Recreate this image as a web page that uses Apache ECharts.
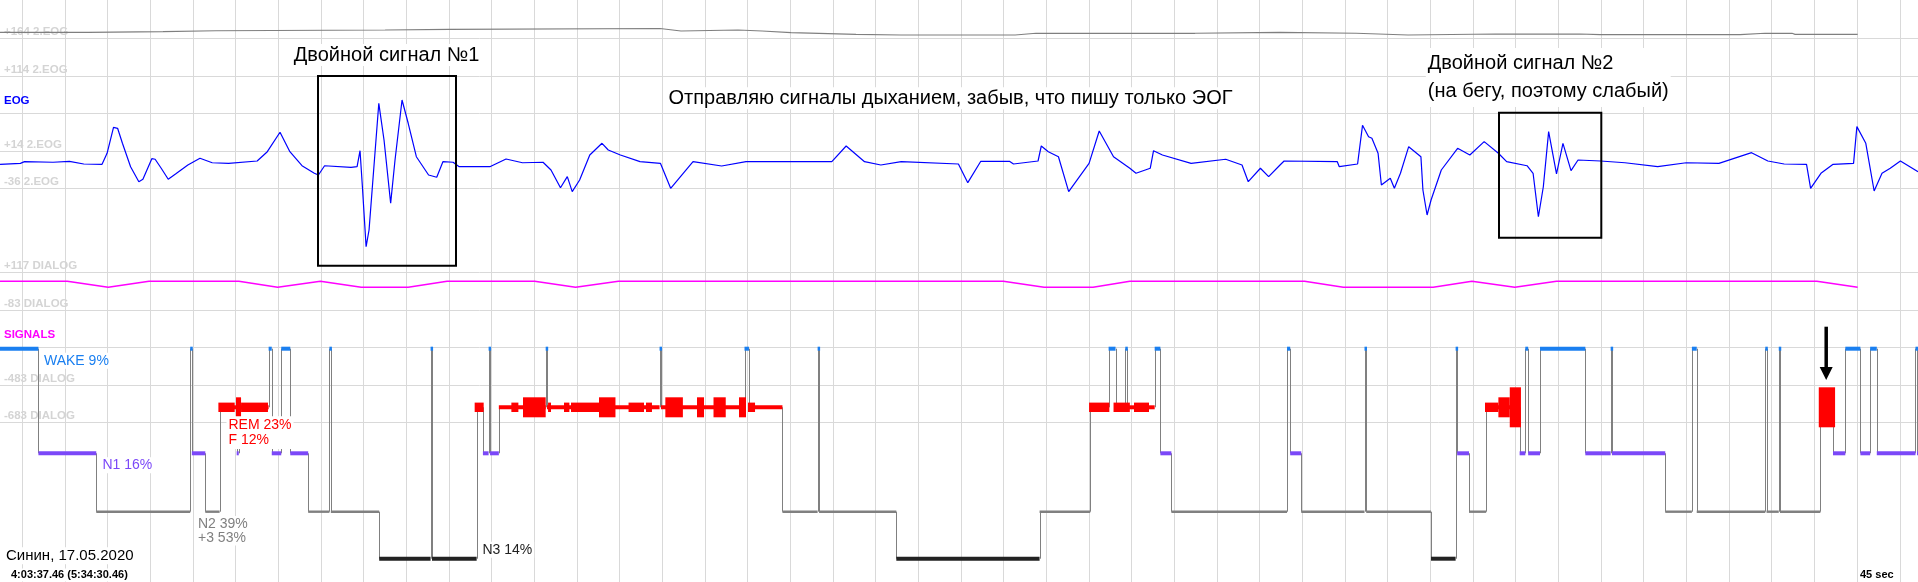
<!DOCTYPE html>
<html>
<head>
<meta charset="utf-8">
<script src="https://cdn.jsdelivr.net/npm/echarts@6/dist/echarts.min.js"></script>
<style>
  html, body { margin: 0; padding: 0; background: #fff; }
  #chart { width: 1918px; height: 582px; }
</style>
</head>
<body>
<div id="chart"></div>
<script>
// ---- recorded channels: [seconds, value] ----
const EOG_SAMPLES = [
  [21.4,-4],[42.9,-2.7],[47.2,-0.5],[77.3,-1.3],[94.6,0],[109.7,-3.6],[129,-4],[134.3,10.7],
  [141.1,45.3],[145.4,44],[150.5,24],[159.1,-7.2],[167.8,-27.2],[172.1,-24],[181.5,3.5],[185,2.7],
  [191.4,-9.3],[198.8,-24],[206.5,-17],[219.5,-4.9],[232.3,4],[245.2,-1.9],[262.5,-2.7],[292.6,0.4],
  [303.3,12.8],[316.7,38.7],[327.1,12.8],[339.9,-5.9],[352.9,-16],[357.2,-18.3],[363.7,-5.9],[391.6,-8],
  [398,-7.2],[401.1,14.1],[403.6,-33.9],[407.5,-113.9],[410.6,-91.6],[420.9,77.3],[426.4,28.4],[433.4,-56],
  [438,1.7],[445.4,81.7],[451.9,50.7],[460.5,6.1],[473.4,-18.3],[482,-21.3],[488.5,-0.5],[499.2,-1.3],
  [505.7,-7.2],[538,-7.2],[555.1,3.1],[572.4,-1.9],[594.1,-1.3],[602.5,-11.6],[612.5,-35.2],[619.7,-20.5],
  [624.9,-40.5],[632.7,-24.9],[643.4,8.4],[656.3,24],[662.9,15.1],[675.7,8.4],[696.4,-0.5],[717.9,-2.7],
  [728.7,-36],[752.3,-0.5],[782.5,-6.3],[808.2,-0.5],[898.7,-0.5],[913.8,20.4],[933.2,-0.5],[950.4,-4.9],
  [971.9,-0.5],[1032.2,-3.6],[1042.1,-28.5],[1055.8,0],[1086,0],[1090.3,-3.6],[1116.2,0.4],[1119.6,20.4],
  [1127,12.8],[1137.7,6.1],[1148.5,-40.5],[1170,-2.7],[1180.7,40.4],[1195.8,6.1],[1213,-9.3],[1219.5,-16],
  [1234.5,-9.3],[1238,14.1],[1247.4,8.4],[1277.6,-2.7],[1314.1,2.7],[1331.3,-4.9],[1337.9,-27.2],[1350.7,-9.3],
  [1359.4,-20.5],[1371.4,-4.9],[1375.7,0.4],[1431.8,-0.5],[1433.9,-7.2],[1453.2,-3.6],[1458.4,48],[1464.8,32.8],
  [1468.3,30.7],[1474.8,10.7],[1478.3,-31.6],[1487.7,-22.7],[1492,-36],[1498.4,-16],[1507.1,19.5],[1520,6.1],
  [1522.1,-38.3],[1526.5,-71.6],[1530.7,-51.6],[1541.5,-11.6],[1558.7,17.3],[1571.6,8.4],[1586.7,26.2],[1601.7,10.7],
  [1610.4,-0.5],[1631.9,-5.9],[1638.3,-16],[1643.9,-73.9],[1649.1,-33.9],[1654.7,39.5],[1663,-16.9],[1669.8,24],
  [1678.3,-12.5],[1685.7,1.7],[1709.4,0.4],[1735.2,-1.9],[1769.7,-7.2],[1799.8,-1.9],[1834.3,-2.7],[1868.7,11.5],
  [1885.9,0.4],[1903.1,-3.6],[1926.7,-4],[1931,-36],[1941.9,-16],[1954.7,-4],[1976.3,-2.7],[1979.8,46.2],
  [1989.2,24],[1998,-39.6],[2006.3,-16],[2015,-9.3],[2025.7,0.4],[2044.3,-13.8]
];

const EOG2_SAMPLES = [
  [21.4,172],[114.2,172],[114.2,172.8],[193.3,172.8],[193.3,174.1],[249.2,174.1],[249.2,175.1],[427.5,175.1],
  [427.5,176],[495,176],[495,177.1],[717.5,177.1],[717.5,176],[739.6,173.7],[799.8,175.1],[825.1,173.7],
  [855.7,171.5],[924.2,169.3],[971.7,168.4],[1092,168.4],[1114,170.7],[1281.8,170.7],[1281.8,172],[1371.4,172],
  [1451.6,170.7],[1452.6,168.4],[1506.4,168.4],[1598.2,169.7],[1687.8,169.7],[1709,168.8],[1856.6,168.8],
  [1883,170.7],[1911.4,170.7],[1914.6,169.3],[1980.6,169.3]
];

const DIALOG_SAMPLES = [
  [21.4,69],[92.4,69],[135.5,37],[178.5,69],[273.3,69],[314.2,37],[359.3,69],[402.4,37],[451.9,37],
  [492.9,69],[585.3,69],[628.4,37],[673.6,69],[1079.6,69],[1122.6,37],[1174.2,37],[1213,69],
  [1397.3,69],[1438.2,37],[1532.9,37],[1573.8,69],[1619,37],[1663,69],[1937.6,69],[1980.6,37]
];

// ---- hypnogram: stage onsets (s) and stages ----
const HYP_T = [0,61.9,122.9,222,223.7,237.9,253,271,273.2,304.7,308,318,327.5,346.4,368.8,370.3,
  421.3,475.5,477,524.1,530.7,536.7,538.2,547.5,596.9,598.3,717,718.5,806.6,811.3,846.6,883.7,
  885.2,966.7,1117.8,1171.2,1190.6,1197.9,1208.2,1209.5,1239.2,1245.2,1256.8,1378.8,1382.1,1393.8,
  1460.5,1462.3,1530.6,1556.6,1558.2,1570.7,1588.8,1624.1,1630.1,1633.1,1645.6,1693.4,1720.1,1721.5,
  1777.7,1805.8,1810.9,1883.2,1884.5,1897.4,1898.7,1941.3,1954.6,1967.6,1983.5,1993.8,2000.8,2041.6,2043.2];
const HYP_STAGE = ['W','N1','N2','W','N1','N2','R','N1','R','W','N1','W','N1','N2','W','N2',
  'N3','W','N3','R','N1','W','N1','R','W','R','W','R','W','R','N2','W',
  'N2','N3','N2','R','W','R','W','R','W','N1','N2','W','N1','N2',
  'W','N2','N3','W','N1','N2','R','N1','W','N1','W','N1','W','N1',
  'N2','W','N2','W','N2','W','N2','R','N1','W','N1','W','N1','W','N1'];

// ---- REM eye-movement bursts: start (s), end (s), intensity 0..3 ----
const REM_T0 = [251.7,270.3,275.6,522,560.7,573,599.4,616.2,623.6,653.1,684.3,702.7,723.1,756.5,773.9,800.8,810.3,
  1170,1195.8,1217.4,1587.6,1601.7,1613.7,1939.6];
const REM_T1 = [268.9,275.6,304,531.5,568.1,596.9,602.5,621.9,654.2,670.5,700.6,709,741.6,763.9,786.8,808.2,817.7,
  1191.4,1213,1233.2,1601.7,1613.7,1625.5,1956.8];
const REM_LEVEL = [1,2,1,1,1,2,1,1,1,2,1,1,2,2,2,2,1,1,1,1,1,2,3,3];

// ---- axis tick labels ----
const EOG_TICK_LABELS = ['-36 2.EOG', '+14 2.EOG', 'EOG', '+114 2.EOG', '+164 2.EOG'];
const DIALOG_TICK_LABELS = ['-683 DIALOG', '-483 DIALOG', 'SIGNALS', '-83 DIALOG', '+117 DIALOG'];

// ---- stage statistics ----
const STAGE_LABELS = {
  W: 'WAKE 9%',
  R: 'REM 23%\nF 12%',
  N1: 'N1 16%',
  N2: 'N2 39%\n+3 53%',
  N3: 'N3 14%'
};

// ---- layout & style ----
const FONT = '"Liberation Sans", Arial, sans-serif';
const GRID_COLOR = '#d9d9d9';
// visible time window (s) spanning the full plot width
const T_LEFT = 21.375, T_RIGHT = 2044.26;
// vertical time grid: one line every 45 s
const T_GRID_MIN = 45, T_GRID_MAX = 2025, T_STEP = 45;
const EOG_MIN = -36, EOG_MAX = 164, EOG_STEP = 50;
const DLG_MIN = -683, DLG_MAX = 117, DLG_STEP = 200;

const STAGE_ORDER = ['W', 'R', 'N1', 'N2', 'N3'];
const TRACK = { W: 0, R: 58.6, N1: 104.6, N2: 163, N3: 210 };
const STAGE_STYLE = {
  W:  { color: '#1a7ff0', h: 4, minW: 2.5 },
  R:  { color: '#ff0000', h: 4, minW: 1 },
  N1: { color: '#7b48f8', h: 4, minW: 1 },
  N2: { color: '#808080', h: 2.4, minW: 1 },
  N3: { color: '#222222', h: 4, minW: 1 }
};
const REM_HALF = [2, 4.7, 10, 20];

const hypData = HYP_T.map((t, i) => [
  t,
  i + 1 < HYP_T.length ? HYP_T[i + 1] : T_RIGHT + 30,
  STAGE_ORDER.indexOf(HYP_STAGE[i]),
  i > 0 ? STAGE_ORDER.indexOf(HYP_STAGE[i - 1]) : -1
]);
const burstData = REM_T0.map((t, i) => [t, REM_T1[i], REM_LEVEL[i]]);

function renderStages(params, api) {
  const s = STAGE_ORDER[api.value(2)];
  const pv = api.value(3);
  const st = STAGE_STYLE[s];
  const a = api.coord([api.value(0), TRACK[s]]);
  const b = api.coord([api.value(1), TRACK[s]]);
  const xa = Math.round(a[0]) + 0.5;
  const kids = [];
  if (pv >= 0) {
    const q = api.coord([api.value(0), TRACK[STAGE_ORDER[pv]]]);
    kids.push({ type: 'line', z2: 0,
      shape: { x1: xa, y1: q[1], x2: xa, y2: a[1] },
      style: { stroke: '#808080', lineWidth: 1 } });
  }
  kids.push({ type: 'rect', z2: 1,
    shape: { x: a[0], y: a[1] - st.h / 2, width: Math.max(b[0] - a[0], st.minW), height: st.h },
    style: { fill: st.color } });
  return { type: 'group', children: kids };
}

function renderBursts(params, api) {
  const a = api.coord([api.value(0), TRACK.R]);
  const b = api.coord([api.value(1), TRACK.R]);
  const h = REM_HALF[api.value(2)];
  return { type: 'rect', z2: 2,
    shape: { x: a[0], y: a[1] - h, width: b[0] - a[0], height: 2 * h },
    style: { fill: '#ff0000' } };
}

function tickLabel(labels, min, step, special) {
  return function (v) {
    const k = Math.round((v - min) / step);
    const s = labels[k] || '';
    return k === 2 ? '{' + special + '|' + s + '}' : s;
  };
}

const axisLabelBase = {
  inside: true, margin: 4, verticalAlign: 'bottom', align: 'left',
  color: '#d4d4d4', fontFamily: FONT, fontWeight: 'bold', fontSize: 11.5,
  showMinLabel: true, showMaxLabel: true
};

const hiddenX = i => ({
  gridIndex: i, type: 'value', min: T_LEFT, max: T_RIGHT, show: false
});

function text(x, y, str, font, color, extra) {
  return {
    type: 'text', x: x, y: y, z: 100,
    style: Object.assign({ text: str, font: font, fill: color, verticalAlign: 'middle', align: 'left' }, extra || {})
  };
}

const WHITE = { backgroundColor: '#ffffff', padding: [1, 2, 1, 2] };

const option = {
  animation: false,
  backgroundColor: '#ffffff',
  grid: [
    { left: 22.4, right: 18.25, top: 0, bottom: 0 },
    { left: 0, right: 0, top: 38.3, height: 150 },
    { left: 0, right: 0, top: 272.3, height: 150 },
    { left: 0, right: 0, top: 348.7, height: 210 }
  ],
  xAxis: [
    { gridIndex: 0, type: 'value', min: T_GRID_MIN, max: T_GRID_MAX, interval: T_STEP,
      axisLine: { show: false }, axisTick: { show: false }, axisLabel: { show: false },
      splitLine: { show: true, lineStyle: { color: GRID_COLOR, width: 1 } } },
    hiddenX(1), hiddenX(2), hiddenX(3)
  ],
  yAxis: [
    { gridIndex: 0, type: 'value', min: 0, max: 1, show: false },
    { gridIndex: 1, type: 'value', min: EOG_MIN, max: EOG_MAX, interval: EOG_STEP,
      axisLine: { show: false }, axisTick: { show: false },
      splitLine: { show: true, lineStyle: { color: GRID_COLOR, width: 1 } },
      axisLabel: Object.assign({}, axisLabelBase, {
        formatter: tickLabel(EOG_TICK_LABELS, EOG_MIN, EOG_STEP, 'eog'),
        rich: { eog: { color: '#0000ff', fontFamily: FONT, fontWeight: 'bold', fontSize: 11.5, padding: [0, 0, 6.5, 0] } }
      }) },
    { gridIndex: 2, type: 'value', min: DLG_MIN, max: DLG_MAX, interval: DLG_STEP,
      axisLine: { show: false }, axisTick: { show: false },
      splitLine: { show: true, lineStyle: { color: GRID_COLOR, width: 1 } },
      axisLabel: Object.assign({}, axisLabelBase, {
        formatter: tickLabel(DIALOG_TICK_LABELS, DLG_MIN, DLG_STEP, 'sig'),
        rich: { sig: { color: '#ff00ff', fontFamily: FONT, fontWeight: 'bold', fontSize: 11.5, padding: [0, 0, 6, 0] } }
      }) },
    { gridIndex: 3, type: 'value', min: 0, max: 210, inverse: true, show: false }
  ],
  series: [
    { name: '2.EOG', type: 'line', xAxisIndex: 1, yAxisIndex: 1, data: EOG2_SAMPLES,
      showSymbol: false, symbol: 'none', clip: false, z: 3,
      lineStyle: { color: '#7f7f7f', width: 1.2 } },
    { name: 'EOG', type: 'line', xAxisIndex: 1, yAxisIndex: 1, data: EOG_SAMPLES,
      showSymbol: false, symbol: 'none', clip: false, z: 4,
      lineStyle: { color: '#0000ff', width: 1.2 } },
    { name: 'DIALOG', type: 'line', xAxisIndex: 2, yAxisIndex: 2, data: DIALOG_SAMPLES,
      showSymbol: false, symbol: 'none', clip: false, z: 3,
      lineStyle: { color: '#ff00ff', width: 1.5 } },
    { name: 'Hypnogram', type: 'custom', xAxisIndex: 3, yAxisIndex: 3, data: hypData,
      encode: { x: [0, 1], y: 2 }, renderItem: renderStages, clip: false, z: 5 },
    { name: 'REM bursts', type: 'custom', xAxisIndex: 3, yAxisIndex: 3, data: burstData,
      encode: { x: [0, 1], y: 2 }, renderItem: renderBursts, clip: false, z: 6 }
  ],
  graphic: [
    // marked double signals
    { type: 'rect', z: 90, shape: { x: 318, y: 76, width: 138, height: 189.7 },
      style: { fill: 'none', stroke: '#000', lineWidth: 2 } },
    { type: 'rect', z: 90, shape: { x: 1499, y: 112.7, width: 102.3, height: 125 },
      style: { fill: 'none', stroke: '#000', lineWidth: 2 } },
    text(291.8, 55, 'Двойной сигнал №1', '20px ' + FONT, '#000', WHITE),
    text(666.5, 98.3, 'Отправляю сигналы дыханием, забыв, что пишу только ЭОГ', '20px ' + FONT, '#000', WHITE),
    text(1425.8, 77.5, 'Двойной сигнал №2\n(на бегу, поэтому слабый)', '20px ' + FONT, '#000',
      Object.assign({ lineHeight: 28.4 }, WHITE)),
    // arrow to the final REM burst
    { type: 'line', z: 90, shape: { x1: 1826.2, y1: 326.7, x2: 1826.2, y2: 369 },
      style: { stroke: '#000', lineWidth: 3.5 } },
    { type: 'polygon', z: 90, shape: { points: [[1819.7, 367], [1832.7, 367], [1826.2, 380]] },
      style: { fill: '#000' } },
    // stage statistics
    text(42, 360.7, STAGE_LABELS.W, '14px ' + FONT, '#1a7ff0', WHITE),
    text(226.5, 432.6, STAGE_LABELS.R, '14px ' + FONT, '#ff0000', Object.assign({ lineHeight: 15.3 }, WHITE)),
    text(100.4, 465.3, STAGE_LABELS.N1, '14px ' + FONT, '#7b48f8', WHITE),
    text(196, 530.8, STAGE_LABELS.N2, '14px ' + FONT, '#808080', Object.assign({ lineHeight: 13.7 }, WHITE)),
    text(480.4, 549.7, STAGE_LABELS.N3, '14px ' + FONT, '#222222', WHITE),
    // record info
    text(4, 555.7, 'Синин, 17.05.2020', '15px ' + FONT, '#000', WHITE),
    text(9, 575, '4:03:37.46 (5:34:30.46)', 'bold 11px ' + FONT, '#000', WHITE),
    text(1858, 575, '45 sec', 'bold 11px ' + FONT, '#000', WHITE)
  ]
};

const chart = echarts.init(document.getElementById('chart'), null, { renderer: 'canvas' });
chart.setOption(option);
</script>
</body>
</html>
